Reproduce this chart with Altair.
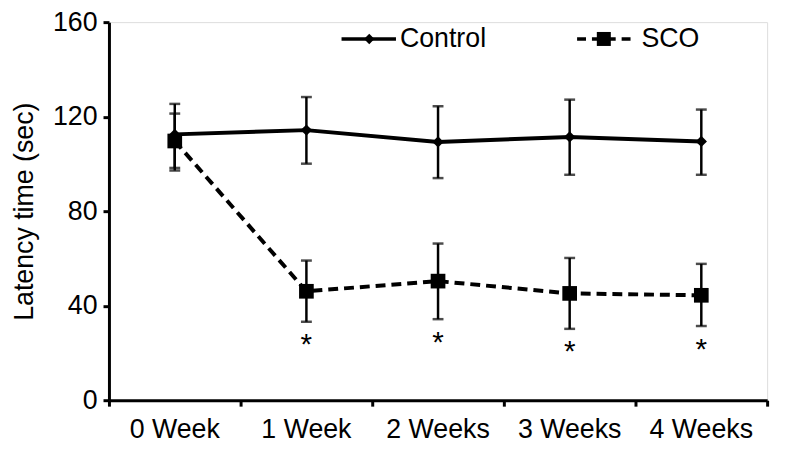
import altair as alt
import pandas as pd

weeks = ["0 Week", "1 Week", "2 Weeks", "3 Weeks", "4 Weeks"]
groups = ["Control", "SCO"]
control_mean = [112.5, 114.3, 109.3, 111.4, 109.5]
control_upper = [125.4, 128.3, 124.4, 127.2, 123.0]
control_lower = [98.3, 100.1, 94.0, 95.4, 95.4]
sco_mean = [109.7, 46.1, 50.4, 45.2, 44.4]
sco_upper = [121.3, 59.1, 66.3, 60.2, 57.7]
sco_lower = [97.2, 33.2, 34.3, 30.2, 31.4]
star_pos = [None, 26.8, 27.4, 23.9, 24.6]
y_ticks = [0, 40, 80, 120, 160]

rows = []
for i, w in enumerate(weeks):
    rows.append(dict(week=w, group="Control", mean=control_mean[i],
                     lower=control_lower[i], upper=control_upper[i]))
    rows.append(dict(week=w, group="SCO", mean=sco_mean[i],
                     lower=sco_lower[i], upper=sco_upper[i]))
df = pd.DataFrame(rows)
stars = pd.DataFrame({"week": weeks, "star": star_pos}).dropna()

FONT = "Liberation Sans"
FS = 27

x_enc = alt.X(
    "week:N", sort=weeks,
    scale=alt.Scale(type="band", domain=weeks, paddingInner=0, paddingOuter=0),
    axis=alt.Axis(title=None, labelAngle=0, labelFontSize=FS, labelFont=FONT,
                  labelColor="black", bandPosition=1, tickExtra=True,
                  tickSize=6, tickWidth=3, tickColor="black",
                  domainWidth=3, domainColor="black", labelPadding=11),
)
y_scale = alt.Scale(domain=[0, 160], nice=False)
y_enc = alt.Y(
    "mean:Q", scale=y_scale,
    axis=alt.Axis(values=y_ticks, title="Latency time (sec)", titleFontSize=FS,
                  titleFont=FONT, titleFontWeight="normal", titleColor="black",
                  labelFontSize=FS, labelFont=FONT, labelColor="black",
                  tickSize=6, tickWidth=3, tickColor="black",
                  domainWidth=3, domainColor="black", grid=False,
                  labelPadding=6, titlePadding=14),
)

base = alt.Chart(df)

err = base.mark_rule(color="black", strokeWidth=2.5).encode(
    x=x_enc, y=alt.Y("lower:Q", scale=y_scale), y2="upper:Q")
cap_top = base.mark_tick(color="black", size=11, thickness=2.5).encode(
    x=x_enc, y=alt.Y("upper:Q", scale=y_scale))
cap_bot = base.mark_tick(color="black", size=11, thickness=2.5).encode(
    x=x_enc, y=alt.Y("lower:Q", scale=y_scale))

line_c = base.transform_filter(alt.datum.group == "Control").mark_line(
    color="black", strokeWidth=4).encode(x=x_enc, y=y_enc)
line_s = base.transform_filter(alt.datum.group == "SCO").mark_line(
    color="black", strokeWidth=4, strokeDash=[10, 6]).encode(x=x_enc, y=y_enc)
pts_c = base.transform_filter(alt.datum.group == "Control").mark_point(
    shape="diamond", filled=True, color="black", size=130, opacity=1).encode(x=x_enc, y=y_enc)
pts_s = base.transform_filter(alt.datum.group == "SCO").mark_point(
    shape="square", filled=True, color="black", size=220, opacity=1).encode(x=x_enc, y=y_enc)

star_txt = alt.Chart(stars).mark_text(
    text="*", fontSize=30, font=FONT, color="black", baseline="alphabetic", dy=17
).encode(x=x_enc, y=alt.Y("star:Q", scale=y_scale))

one = pd.DataFrame({"k": [0]})
leg = alt.Chart(one)
leg_items = [
    leg.mark_rule(color="black", strokeWidth=3.5).encode(
        x=alt.value(235), x2=alt.value(290), y=alt.value(17)),
    leg.mark_point(shape="diamond", filled=True, color="black", size=110, opacity=1).encode(
        x=alt.value(263), y=alt.value(17)),
    leg.mark_text(text=groups[0], fontSize=FS, font=FONT, color="black",
                  align="left", baseline="middle").encode(x=alt.value(294), y=alt.value(17)),
    leg.mark_rule(color="black", strokeWidth=3.5, strokeDash=[9, 6]).encode(
        x=alt.value(473), x2=alt.value(530), y=alt.value(17)),
    leg.mark_point(shape="square", filled=True, color="black", size=200, opacity=1).encode(
        x=alt.value(500), y=alt.value(17)),
    leg.mark_text(text=groups[1], fontSize=FS, font=FONT, color="black",
                  align="left", baseline="middle").encode(x=alt.value(538), y=alt.value(17)),
]

chart = alt.layer(err, cap_top, cap_bot, line_s, line_c, pts_s, pts_c, star_txt,
                  *leg_items).properties(
    width=665, height=382,
    autosize=alt.AutoSizeParams(type="none"),
    padding={"left": 102, "top": 12, "right": 12, "bottom": 46},
).configure_view(stroke=None).configure(background="white")

chart.save("out.html", embed_options={"renderer": "svg", "actions": False})
